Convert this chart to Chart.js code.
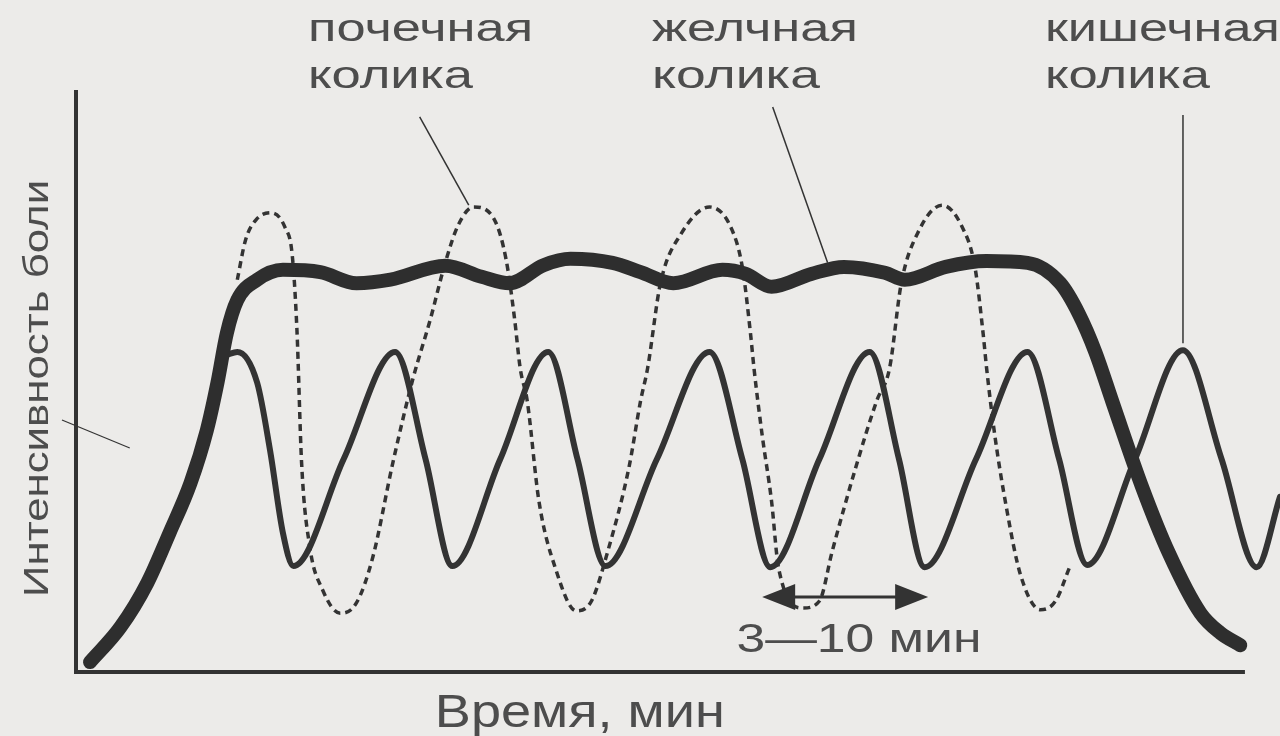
<!DOCTYPE html>
<html lang="ru">
<head>
<meta charset="utf-8">
<title>Колики</title>
<script src="https://cdn.jsdelivr.net/npm/chart.js@4.4.1/dist/chart.umd.min.js"></script>
<style>
    html, body { margin: 0; padding: 0; background: #ecebe9; }
    canvas { display: block; }
</style>
</head>
<body>
<canvas id="ColicCanvas" width="1280" height="736"></canvas>
<script>
// Values: time in arbitrary units (0..100 = x axis), pain intensity 0..100
const biliaryTime = [1.2, 3.8, 6.1, 8.0, 9.8, 11.2, 12.1, 12.9, 13.8, 15.5, 17.7, 20.9, 24.0,
                     26.9, 31.6, 34.7, 37.1, 40.0, 42.3, 45.9, 48.3, 51.1, 55.3, 57.3, 59.5, 62.9, 65.7,
                     69.2, 70.9, 74.4, 77.9, 81.4, 84.2, 85.8, 87.2, 88.7, 91.2, 93.5, 96.2, 97.9, 99.6];
const biliaryPain = [1.7, 7.7, 15.3, 23.9, 32.5, 41.6, 49.7, 58.2, 63.9, 67.4, 69.1, 68.7, 66.8,
                     67.4, 69.8, 67.9, 66.8, 69.9, 71.0, 70.3, 68.7, 66.8, 69.1, 68.4, 66.2, 68.4, 69.6,
                     68.6, 67.4, 69.6, 70.6, 70.3, 66.8, 61.5, 55.0, 46.2, 31.8, 20.4, 10.1, 6.7, 4.6];

const renalTime = [13.8, 14.5, 15.4, 16.7, 17.9, 18.5, 18.9, 19.3, 20.0, 21.1, 22.6, 24.0, 25.4, 27.1, 28.8,
                   30.3, 31.6, 32.7, 34.0, 35.8, 36.8, 37.5, 38.0, 38.6, 39.6, 41.0, 42.8, 44.1, 45.5, 47.3,
                   48.3, 48.9, 50.0, 51.8, 54.2, 56.0, 57.0, 57.7, 58.0, 58.7, 59.5, 60.1, 62.2, 63.6, 64.7,
                   66.7, 68.5, 69.6, 70.6, 72.0, 74.1, 75.8, 76.9, 77.6, 77.9, 78.6, 79.6, 80.8, 82.5, 83.8, 85.0];
const renalPain = [67.4, 74.2, 77.7, 78.9, 76.3, 71.6, 58.8, 35.9, 21.5, 14.1, 10.1, 11.9, 19.8, 35.9, 50.2,
                   60.5, 70.4, 76.8, 79.9, 77.7, 70.8, 61.0, 52.2, 46.6, 29.4, 17.9, 10.5, 12.2, 20.8, 35.1,
                   46.6, 52.2, 66.8, 75.4, 79.9, 76.5, 69.6, 58.2, 52.2, 40.7, 29.4, 17.9, 11.0, 12.2, 20.8,
                   35.1, 46.6, 52.2, 66.8, 75.4, 80.2, 76.5, 69.6, 58.2, 52.2, 40.7, 28.2, 16.7, 10.7, 12.2, 18.0];

const intestinalTime = [12.9, 13.8, 15.5, 16.6, 17.7, 18.6, 22.9, 27.3, 29.9, 32.2, 36.3, 40.4, 42.9, 45.3, 49.7,
                        54.2, 57.0, 59.4, 63.6, 67.9, 70.4, 72.6, 77.0, 81.4, 84.1, 86.5, 90.6, 94.7, 98.0,
                        101.0, 103.0];
const intestinalPain = [54.5, 55.0, 49.7, 38.1, 23.9, 18.2, 36.6, 55.0, 36.6, 18.2, 36.6, 55.0, 36.6, 18.2, 36.6,
                        55.0, 36.6, 18.0, 36.6, 55.0, 36.6, 18.0, 36.6, 55.0, 36.6, 18.4, 36.6, 55.3, 36.6,
                        18.0, 30.1];

const axisTitles = { x: 'Время, мин', y: 'Интенсивность боли' };
const periodLabel = '3—10 мин';
const colicNames = [['почечная', 'колика'], ['желчная', 'колика'], ['кишечная', 'колика']];

Initialize();

function Initialize()
{
    const ink     = '#333333';
    const textInk = '#4d4d4d';
    const font    = '"Liberation Sans", Arial, sans-serif';

    function Points(xs, ys)
    {
        return xs.map((x, i) => ({ x: x, y: ys[i] }));
    }

    // Draw text squeezed/stretched to a given pixel width (the scan has wide lettering)
    function FitText(ctx, text, px, py, size, width, vertical)
    {
        ctx.save();
        ctx.font = size + 'px ' + font;
        const w = ctx.measureText(text).width;
        ctx.translate(px, py);
        if (vertical) ctx.rotate(-Math.PI / 2);
        ctx.scale(width / w, 1);
        ctx.textBaseline = 'alphabetic';
        ctx.fillText(text, 0, 0);
        ctx.restore();
    }

    const paperPlugin =
    {
        id: 'paper',
        beforeDraw(chart)
        {
            const c = chart.ctx;
            c.save();
            c.fillStyle = '#ecebe9';
            c.fillRect(0, 0, chart.width, chart.height);
            c.restore();
        },
        beforeDatasetsDraw(chart)
        {
            // axes as drawn in the book: plain lines, no ticks
            const c = chart.ctx, sx = chart.scales.x, sy = chart.scales.y;
            c.save();
            c.strokeStyle = ink;
            c.lineWidth = 4;
            c.beginPath();
            c.moveTo(sx.getPixelForValue(0), sy.getPixelForValue(100));
            c.lineTo(sx.getPixelForValue(0), sy.getPixelForValue(0));
            c.lineTo(sx.getPixelForValue(100), sy.getPixelForValue(0));
            c.stroke();
            c.restore();
        },
        afterDatasetsDraw(chart)
        {
            const c = chart.ctx, sx = chart.scales.x, sy = chart.scales.y;
            const X = v => sx.getPixelForValue(v);
            const Y = v => sy.getPixelForValue(v);

            c.save();
            c.fillStyle = textInk;
            c.strokeStyle = ink;

            // curve names with leader lines
            const names =
            [
                { left: 19.85, w1: 225, w2: 165, from: [29.4, 95.4], to: [33.6, 80.2] },
                { left: 49.27, w1: 206, w2: 168, from: [59.6, 97.1], to: [64.3, 70.3] },
                { left: 82.89, w1: 235, w2: 165, from: [94.7, 95.7], to: [94.7, 56.5] }
            ];
            names.forEach((n, i) =>
            {
                FitText(c, colicNames[i][0], X(n.left), Y(108.4), 38, n.w1, false);
                FitText(c, colicNames[i][1], X(n.left), Y(100.3), 38, n.w2, false);
                c.lineWidth = 1.5;
                c.beginPath();
                c.moveTo(X(n.from[0]), Y(n.from[1]));
                c.lineTo(X(n.to[0]), Y(n.to[1]));
                c.stroke();
            });

            // axis titles
            FitText(c, axisTitles.x, X(30.7), Y(-9.5), 46, 290, false);
            FitText(c, axisTitles.y, X(-2.4), Y(12.9), 35, 417, true);
            c.lineWidth = 1.2;
            c.beginPath();
            c.moveTo(X(-1.2), Y(43.3));
            c.lineTo(X(4.6), Y(38.5));
            c.stroke();

            // period arrow
            const ay = Y(12.9), ax1 = X(58.7), ax2 = X(72.9);
            c.lineWidth = 3;
            c.beginPath();
            c.moveTo(ax1 + 20, ay);
            c.lineTo(ax2 - 20, ay);
            c.stroke();
            c.fillStyle = ink;
            c.beginPath();
            c.moveTo(ax1, ay); c.lineTo(ax1 + 33, ay - 13); c.lineTo(ax1 + 33, ay + 13); c.closePath();
            c.moveTo(ax2, ay); c.lineTo(ax2 - 33, ay - 13); c.lineTo(ax2 - 33, ay + 13); c.closePath();
            c.fill();
            c.fillStyle = textInk;
            FitText(c, periodLabel, X(56.5), Y(3.4), 40, 245, false);

            c.restore();
        }
    };

    const ctx = document.getElementById('ColicCanvas').getContext('2d');

    new Chart(ctx,
    {
        type: 'line',
        data:
        {
            datasets:
            [
                {
                    label: 'желчная колика',
                    data: Points(biliaryTime, biliaryPain),
                    borderColor: '#2e2e2e',
                    borderWidth: 14,
                    borderCapStyle: 'round',
                    borderJoinStyle: 'round'
                },
                {
                    label: 'кишечная колика',
                    data: Points(intestinalTime, intestinalPain),
                    borderColor: ink,
                    borderWidth: 6,
                    borderCapStyle: 'round'
                },
                {
                    label: 'почечная колика',
                    data: Points(renalTime, renalPain),
                    borderColor: ink,
                    borderWidth: 3.5,
                    borderDash: [7, 5]
                }
            ]
        },
        options:
        {
            responsive: false,
            animation: false,
            parsing: true,
            clip: false,
            layout: { padding: { left: 76, right: 0, top: 90, bottom: 64 } },
            elements:
            {
                point: { radius: 0, hoverRadius: 0 },
                line: { cubicInterpolationMode: 'monotone', fill: false }
            },
            scales:
            {
                x: { type: 'linear', min: 0, max: 103, display: false },
                y: { type: 'linear', min: 0, max: 100, display: false }
            },
            plugins:
            {
                legend: { display: false },
                tooltip: { enabled: false }
            }
        },
        plugins: [paperPlugin]
    });
}
</script>
</body>
</html>
